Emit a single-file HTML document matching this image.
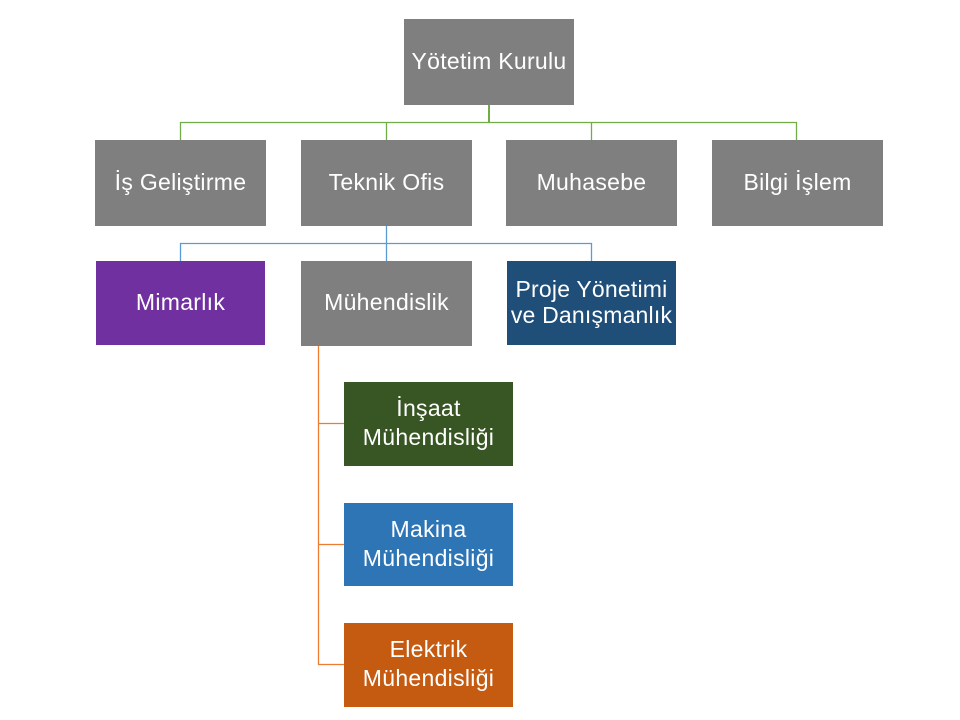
<!DOCTYPE html>
<html>
<head>
<meta charset="utf-8">
<style>
  html, body { margin:0; padding:0; background:#ffffff; }
  body { width:960px; height:720px; position:relative; overflow:hidden;
         font-family:"Liberation Sans", "DejaVu Sans", sans-serif; }
  .b { position:absolute; display:flex; align-items:center; justify-content:center;
       text-align:center; color:#ffffff; font-size:23px; letter-spacing:0.3px;
       line-height:27px; box-sizing:border-box; padding-bottom:2px; }
  .g { background:#7f7f7f; }
  svg { position:absolute; left:0; top:0; }
</style>
</head>
<body>
<svg width="960" height="720" viewBox="0 0 960 720">
  <g stroke="#70ad47" fill="none">
    <line x1="489" y1="105" x2="489" y2="122" stroke-width="2"/>
    <line x1="180" y1="122.5" x2="797" y2="122.5" stroke-width="1.3"/>
    <line x1="180.5" y1="122" x2="180.5" y2="140" stroke-width="1.3"/>
    <line x1="386.5" y1="122" x2="386.5" y2="140" stroke-width="1.3"/>
    <line x1="591.5" y1="122" x2="591.5" y2="140" stroke-width="1.3"/>
    <line x1="796.5" y1="122" x2="796.5" y2="140" stroke-width="1.3"/>
  </g>
  <g stroke="#5b9bd5" fill="none" stroke-width="1.3">
    <line x1="386.5" y1="226" x2="386.5" y2="261"/>
    <line x1="180" y1="243.5" x2="592" y2="243.5"/>
    <line x1="180.5" y1="243" x2="180.5" y2="261"/>
    <line x1="591.5" y1="243" x2="591.5" y2="261"/>
  </g>
  <g stroke="#ed7d31" fill="none" stroke-width="1.3">
    <line x1="318.5" y1="346" x2="318.5" y2="665"/>
    <line x1="318" y1="423.5" x2="344" y2="423.5"/>
    <line x1="318" y1="544.5" x2="344" y2="544.5"/>
    <line x1="318" y1="664.5" x2="344" y2="664.5"/>
  </g>
</svg>

<div class="b g" style="left:404px;top:19px;width:170px;height:86px;">Yötetim Kurulu</div>

<div class="b g" style="left:95px;top:140px;width:171px;height:86px;">İş Geliştirme</div>
<div class="b g" style="left:301px;top:140px;width:171px;height:86px;">Teknik Ofis</div>
<div class="b g" style="left:506px;top:140px;width:171px;height:86px;">Muhasebe</div>
<div class="b g" style="left:712px;top:140px;width:171px;height:86px;">Bilgi İşlem</div>

<div class="b" style="left:96px;top:261px;width:169px;height:84px;background:#7030a0;">Mimarlık</div>
<div class="b g" style="left:301px;top:261px;width:171px;height:85px;">Mühendislik</div>
<div class="b" style="left:507px;top:261px;width:169px;height:84px;background:#1f4e79;line-height:26px;letter-spacing:0.2px;">Proje Yönetimi<br>ve Danışmanlık</div>

<div class="b" style="left:344px;top:382px;width:169px;height:84px;background:#375623;line-height:29px;">İnşaat<br>Mühendisliği</div>
<div class="b" style="left:344px;top:503px;width:169px;height:83px;background:#2e75b6;line-height:29px;">Makina<br>Mühendisliği</div>
<div class="b" style="left:344px;top:623px;width:169px;height:84px;background:#c55a11;line-height:29px;">Elektrik<br>Mühendisliği</div>
</body>
</html>
